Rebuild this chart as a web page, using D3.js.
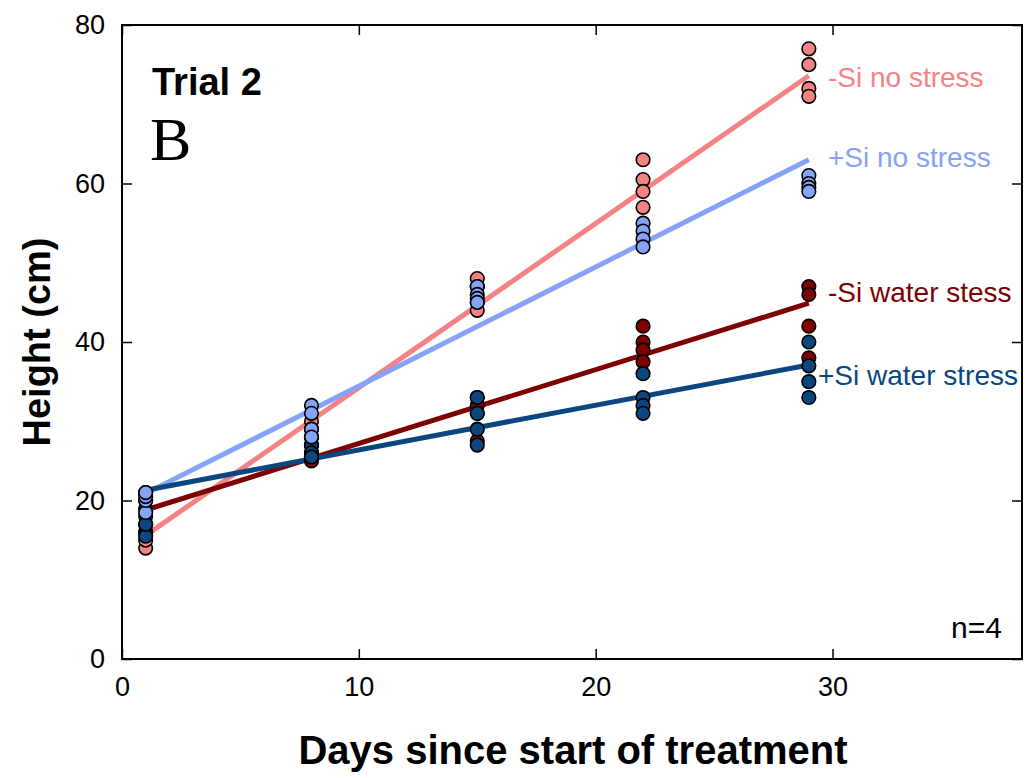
<!DOCTYPE html>
<html><head><meta charset="utf-8">
<script src="https://cdn.jsdelivr.net/npm/d3@7"></script>
<style>body{margin:0;background:#fff}svg{display:block}text{font-family:Arial,"Liberation Sans",sans-serif}</style>
</head><body><svg id="c" width="1025" height="778"></svg>
<script>
const days = [1, 8, 15, 22, 29];
const seriesNames = ["-Si no stress", "+Si no stress", "-Si water stess", "+Si water stress"];
const seriesColors = ["#f58383", "#85a3f7", "#7e0000", "#0b467f"];
// replicate heights (cm), 4 per day, per series
const siNoStress   = [[14, 15, 16, 17], [30, 29, 28, 27], [48, 47, 45, 44], [63, 60.5, 59, 57], [77, 75, 72, 71]];
const plusNoStress = [[18.5, 20, 20.5, 21], [32, 31, 29, 28], [47, 46, 45.5, 45], [55, 54, 53, 52], [61, 60, 59.5, 59]];
const siWater      = [[16, 17, 18, 19], [27, 26, 25.5, 25], [33, 32, 31, 27.5], [42, 40, 39, 37.5], [47, 46, 42, 38]];
const plusWater    = [[15.5, 17, 20, 21], [28, 27, 26, 25.5], [33, 31, 29, 27], [36, 33, 32, 31], [40, 37, 35, 33]];
// fitted line values at first and last day
const fitStart = [15.6, 20.9, 18.8, 21.3];
const fitEnd   = [73.6, 63.0, 44.9, 37.1];
const xTicks = [0, 10, 20, 30];
const yTicks = [0, 20, 40, 60, 80];
const labelY = [73.5, 63.3, 46.3, 35.8];

const allSeries = [siNoStress, plusNoStress, siWater, plusWater];
const svg = d3.select("#c");
const L = 122, R = 1022, T = 25, B = 659;
const x = d3.scaleLinear().domain([0, 38]).range([L, R]);
const y = d3.scaleLinear().domain([0, 80]).range([B, T]);

// axes: ticks inward on all four sides
const fs = 27;
svg.append("g").attr("transform", `translate(0,${B})`)
  .call(d3.axisBottom(x).tickValues(xTicks).tickSizeInner(-10).tickSizeOuter(0).tickPadding(18))
  .call(g => g.select(".domain").remove());
svg.append("g").attr("transform", `translate(0,${T})`)
  .call(d3.axisTop(x).tickValues(xTicks).tickSizeInner(-10).tickSizeOuter(0).tickFormat(""))
  .call(g => g.select(".domain").remove());
svg.append("g").attr("transform", `translate(${L},0)`)
  .call(d3.axisLeft(y).tickValues(yTicks).tickSizeInner(-10).tickSizeOuter(0).tickPadding(17))
  .call(g => g.select(".domain").remove());
svg.append("g").attr("transform", `translate(${R},0)`)
  .call(d3.axisRight(y).tickValues(yTicks).tickSizeInner(-10).tickSizeOuter(0).tickFormat(""))
  .call(g => g.select(".domain").remove());
svg.selectAll(".tick line").attr("stroke", "#000").attr("stroke-width", 1.5);
svg.selectAll(".tick text").attr("font-size", fs).attr("fill", "#000").style("font-family", "Arial,'Liberation Sans',sans-serif");
svg.append("rect").attr("x", L).attr("y", T).attr("width", R - L).attr("height", B - T)
  .attr("fill", "none").attr("stroke", "#000").attr("stroke-width", 2);

// regression lines
allSeries.forEach((s, i) => {
  svg.append("line")
    .attr("x1", x(days[0])).attr("y1", y(fitStart[i]))
    .attr("x2", x(days[days.length - 1])).attr("y2", y(fitEnd[i]))
    .attr("stroke", seriesColors[i]).attr("stroke-width", 5);
});

// points
const order = [0, 2, 3, 1];
order.forEach(i => {
  const pts = [];
  allSeries[i].forEach((vals, d) => vals.forEach(v => pts.push([days[d], v])));
  svg.append("g").selectAll("circle").data(pts).join("circle")
    .attr("cx", p => x(p[0])).attr("cy", p => y(p[1])).attr("r", 6.8)
    .attr("fill", seriesColors[i]).attr("stroke", "#000").attr("stroke-width", 1.6);
});

// series labels
const lx = [828, 828, 828, 818];
seriesNames.forEach((n, i) => {
  svg.append("text").attr("x", lx[i]).attr("y", y(labelY[i]) + 10)
    .attr("font-size", 28).attr("fill", seriesColors[i]).text(n);
});

svg.append("text").attr("x", 152).attr("y", 95).attr("font-size", 38).attr("font-weight", "bold").text("Trial 2");
svg.append("text").attr("x", 150).attr("y", 160).attr("font-size", 62)
  .style("font-family", "'Times New Roman','Liberation Serif',serif").text("B");
svg.append("text").attr("x", 1002).attr("y", 638).attr("text-anchor", "end").attr("font-size", 30).text("n=4");

svg.append("text").attr("transform", `translate(50,${(T + B) / 2}) rotate(-90)`)
  .attr("text-anchor", "middle").attr("font-size", 38).attr("font-weight", "bold").text("Height (cm)");
svg.append("text").attr("x", 573).attr("y", 764).attr("text-anchor", "middle")
  .attr("font-size", 40).attr("font-weight", "bold").text("Days since start of treatment");
</script></body></html>
